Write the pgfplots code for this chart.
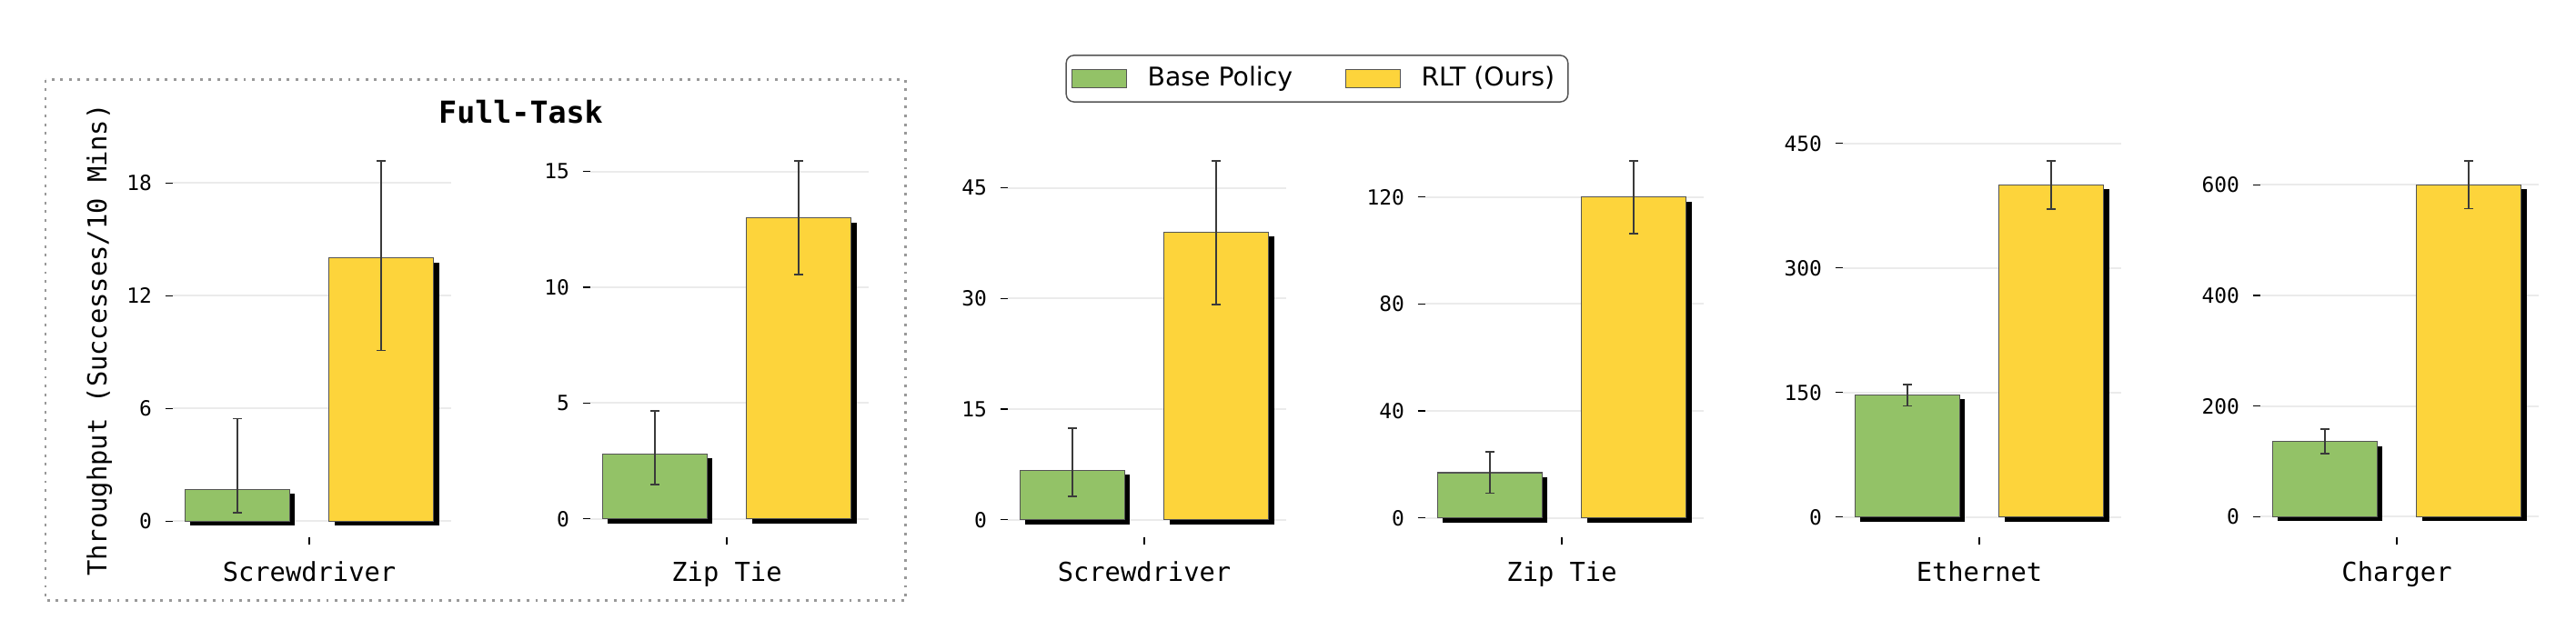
\documentclass[border=0pt]{standalone}
\usepackage{pgfplots}
\pgfplotsset{compat=1.18}
\usepackage{fontspec}
\setmainfont{DejaVu Sans}
\newfontfamily\monofont{DejaVu Sans Mono}

\definecolor{basegreen}{HTML}{93C267}
\definecolor{rltyellow}{HTML}{FDD43B}
\definecolor{edgegray}{HTML}{555555}
\definecolor{errgray}{HTML}{3A3A3A}
\definecolor{gridgray}{HTML}{EBEBEB}
\definecolor{boxgray}{HTML}{999999}

\pgfplotsset{
  panel/.style={
    scale only axis, width=73.44pt, height=104.16pt,
    anchor=south west,
    xmin=-1.50, xmax=1.56,
    xtick={0},
    axis line style={draw=none},
    tick pos=left,
    tick align=outside,
    major tick length=2pt,
    every tick/.style={black, line width=0.3pt},
    ymajorgrids,
    grid style={gridgray, line width=0.45pt},
    /pgf/number format/assume math mode=true,
    yticklabel style={font=\monofont\fontsize{5.5}{6}\selectfont},
    xticklabel style={font=\monofont\fontsize{6.9}{8}\selectfont, yshift=-0.8pt},
    label style={font=\monofont\fontsize{6.9}{8}\selectfont},
    legend image code/.code={\draw[#1, sharp corners] (0pt,-2.5pt) rectangle (14.2pt,2.5pt);},
  },
  errbar/.style={
    /pgfplots/error bars/y dir=both,
    /pgfplots/error bars/y explicit,
    /pgfplots/error bars/error bar style={errgray, line width=0.4pt},
    /pgfplots/error bars/error mark options={errgray, rotate=90, mark size=1.15pt, line width=0.4pt},
  },
  shadow/.style={ybar, bar width=1.15, bar shift=0pt, fill=black, draw=none, xshift=1.4pt, yshift=-1.2pt, forget plot},
  base/.style={ybar, bar width=1.15, bar shift=0pt, fill=basegreen, draw=edgegray, line width=0.25pt, errbar},
  rlt/.style={ybar, bar width=1.15, bar shift=0pt, fill=rltyellow, draw=edgegray, line width=0.25pt, errbar},
}

\begin{document}
\begin{tikzpicture}
\useasboundingbox (0,0) rectangle (679.68pt,-166.08pt);

% full-task group frame
\draw[boxgray, line width=0.7pt, dash pattern=on 0.7pt off 1.6pt] (12pt,-21.05pt) rectangle (239pt,-158.6pt);
\node[anchor=base, font=\monofont\bfseries\fontsize{8}{9}\selectfont] at (137.4pt,-32.4pt) {Full-Task};

% Full-Task: Screwdriver
\begin{axis}[panel, at={(45.6pt,-141.84pt)},
  ymin=-0.856, ymax=20.14, ytick={0,6,12,18},
  xticklabels={Screwdriver},
  ylabel={Throughput (Successes/10 Mins)},
  ylabel style={at={(rel axis cs:-0.264,0.5)}, anchor=center}]
\addplot[shadow] coordinates {(-0.792,1.7)};
\addplot[shadow] coordinates {(0.792,14)};
\addplot[base] coordinates {(-0.792,1.7) += (0,3.75) -= (0,1.24)};
\addplot[rlt] coordinates {(0.792,14) += (0,5.16) -= (0,4.92)};
\end{axis}

% Full-Task: Zip Tie
\begin{axis}[panel, at={(155.76pt,-141.84pt)},
  ymin=-0.797, ymax=16.24, ytick={0,5,10,15},
  xticklabels={Zip Tie}]
\addplot[shadow] coordinates {(-0.792,2.8)};
\addplot[shadow] coordinates {(0.792,13)};
\addplot[base] coordinates {(-0.792,2.8) += (0,1.87) -= (0,1.32)};
\addplot[rlt] coordinates {(0.792,13) += (0,2.45) -= (0,2.46)};
\end{axis}

% Screwdriver
\begin{axis}[panel, at={(265.92pt,-141.84pt)},
  ymin=-2.37, ymax=51.13, ytick={0,15,30,45},
  xticklabels={Screwdriver},
  legend columns=2,
  legend style={at={(1.111,1.1625)}, anchor=center,
    font=\fontsize{6.8}{8}\selectfont,
    draw=edgegray, line width=0.35pt, rounded corners=2pt,
    inner xsep=1.5pt, inner ysep=0.8pt,
    /tikz/every odd column/.append style={column sep=3.5pt},
    /tikz/every even column/.append style={column sep=12pt}}]
\addplot[shadow] coordinates {(-0.792,6.7)};
\addplot[shadow] coordinates {(0.792,39)};
\addplot[base] coordinates {(-0.792,6.7) += (0,5.75) -= (0,3.53)};
\addplot[rlt] coordinates {(0.792,39) += (0,9.65) -= (0,9.8)};
\legend{Base Policy, RLT (Ours)}
\end{axis}

% Zip Tie
\begin{axis}[panel, at={(376.08pt,-141.84pt)},
  ymin=-7.24, ymax=140.3, ytick={0,40,80,120},
  xticklabels={Zip Tie}]
\addplot[shadow] coordinates {(-0.792,16.9)};
\addplot[shadow] coordinates {(0.792,120)};
\addplot[base] coordinates {(-0.792,16.9) += (0,7.8) -= (0,7.7)};
\addplot[rlt] coordinates {(0.792,120) += (0,13.4) -= (0,13.8)};
\end{axis}

% Ethernet
\begin{axis}[panel, at={(486.24pt,-141.84pt)},
  ymin=-24.4, ymax=450.8, ytick={0,150,300,450},
  xticklabels={Ethernet}]
\addplot[shadow] coordinates {(-0.792,147)};
\addplot[shadow] coordinates {(0.792,400)};
\addplot[base] coordinates {(-0.792,147) += (0,12.9) -= (0,13)};
\addplot[rlt] coordinates {(0.792,400) += (0,29) -= (0,29)};
\end{axis}

% Charger
\begin{axis}[panel, at={(596.4pt,-141.84pt)},
  ymin=-37.2, ymax=676.3, ytick={0,200,400,600},
  xticklabels={Charger}]
\addplot[shadow] coordinates {(-0.792,136)};
\addplot[shadow] coordinates {(0.792,600)};
\addplot[base] coordinates {(-0.792,136) += (0,22) -= (0,22)};
\addplot[rlt] coordinates {(0.792,600) += (0,43.6) -= (0,43)};
\end{axis}
\end{tikzpicture}
\end{document}
